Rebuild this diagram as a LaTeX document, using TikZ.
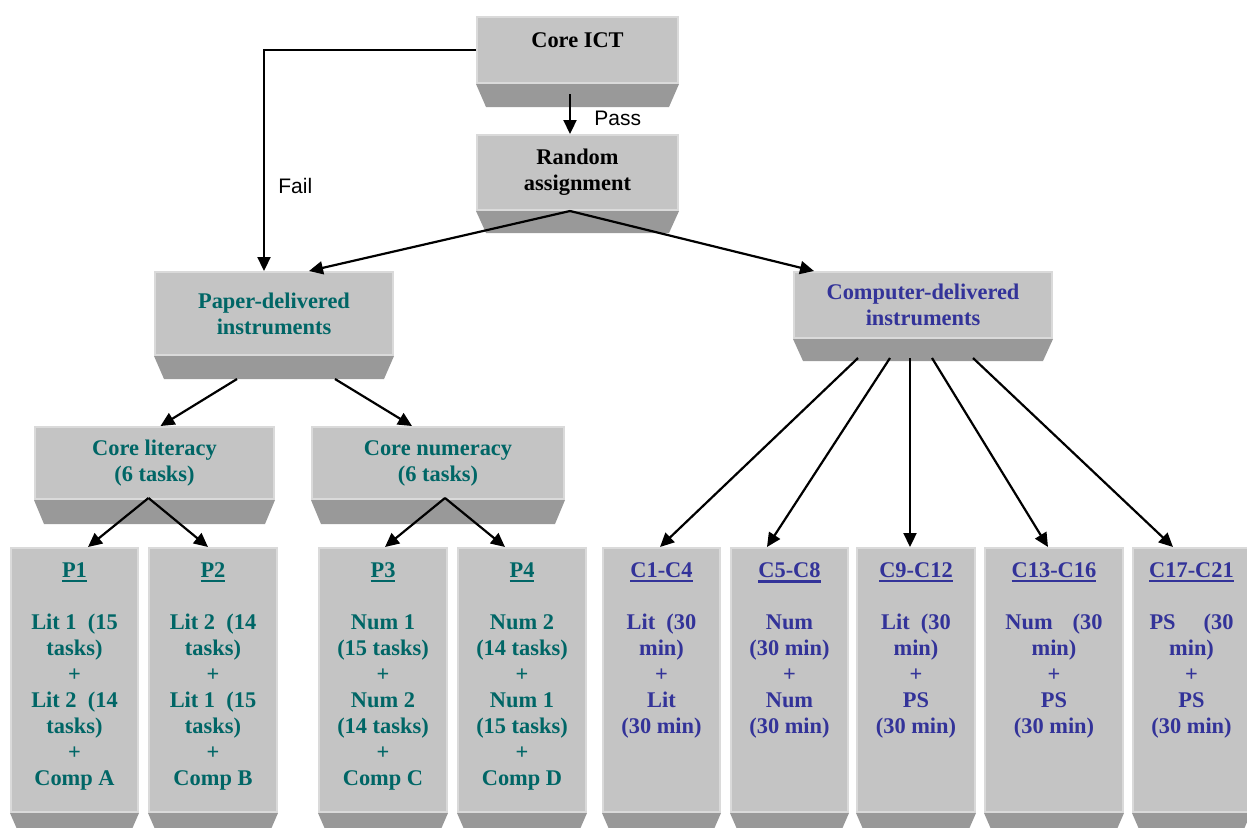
\documentclass[tikz,border=0pt]{standalone}
\usepackage{fontspec}
\setmainfont{Liberation Serif}
\newfontfamily\armfont{Liberation Sans}
\usetikzlibrary{arrows.meta,calc}

\definecolor{facegray}{HTML}{C4C4C4}
\definecolor{edgegray}{HTML}{DADADA}
\definecolor{basegray}{HTML}{999999}
\definecolor{paperteal}{HTML}{006666}
\definecolor{compblue}{HTML}{333399}

\tikzset{
  slab/.style={fill=facegray, draw=edgegray, line width=1pt, inner sep=0pt, align=center,
    font=\bfseries\fontsize{11.2}{13}\selectfont},
  column/.style={slab, anchor=north, inner ysep=7.5pt, minimum width=#1},
  arr/.style={-{Triangle[length=7pt,width=6.5pt]}, line width=1.1pt},
  lbl/.style={font=\armfont\fontsize{10.5}{12}\selectfont, anchor=west, inner sep=0pt}
}

% dark lower face under a box
\newcommand{\slabbase}[2]{\fill[basegray] (#1.south west) -- (#1.south east)
  -- ([shift={(-5pt,-#2)}]#1.south east) -- ([shift={(5pt,-#2)}]#1.south west) -- cycle;}
% text of a tall box, set from the top
\newcommand{\colstack}[1]{\parbox[c][117pt][t]{54pt}{\centering #1}}
\newcommand{\colhead}[1]{\leavevmode\vtop{\hbox{#1}\kern1pt\hrule height 1.2pt}}

\begin{document}
\begin{tikzpicture}[x=0.5pt,y=-0.5pt]
  \useasboundingbox (0,0) rectangle (1247,827);
  \clip (0,0) rectangle (1247,827);

  % upper levels
  \node[slab, minimum width=100.5pt, minimum height=33pt] (ict) at (577.5,50) {\raisebox{10pt}{Core ICT}};
  \node[slab, minimum width=100.5pt, minimum height=37.5pt] (rand) at (577.5,172.5) {Random\\assignment};
  \node[slab, text=paperteal, minimum width=119pt, minimum height=41.5pt] (paper) at (274,313.5) {Paper-delivered\\instruments};
  \node[slab, text=compblue, minimum width=129pt, minimum height=33pt] (comp) at (923,305) {Computer-delivered\\instruments};
  \node[slab, text=paperteal, minimum width=119.5pt, minimum height=36pt] (lit) at (154.5,463) {Core literacy\\(6 tasks)};
  \node[slab, text=paperteal, minimum width=126pt, minimum height=36pt] (num) at (438,463) {Core numeracy\\(6 tasks)};
  \slabbase{ict}{11.5pt}
  \slabbase{rand}{11pt}
  \slabbase{paper}{11.5pt}
  \slabbase{comp}{11pt}
  \slabbase{lit}{12pt}
  \slabbase{num}{12pt}

  % paper booklets
  \node[column=63.5pt, text=paperteal] (p1) at (74.5,547) {\colstack{\colhead{P1}\\[13pt]
    Lit 1~~(15\\tasks)\\+\\Lit 2~~(14\\tasks)\\+\\Comp A}};
  \node[column=64pt, text=paperteal] (p2) at (213,547) {\colstack{\colhead{P2}\\[13pt]
    Lit 2~~(14\\tasks)\\+\\Lit 1~~(15\\tasks)\\+\\Comp B}};
  \node[column=64pt, text=paperteal] (p3) at (383,547) {\colstack{\colhead{P3}\\[13pt]
    Num 1\\(15 tasks)\\+\\Num 2\\(14 tasks)\\+\\Comp C}};
  \node[column=64pt, text=paperteal] (p4) at (522,547) {\colstack{\colhead{P4}\\[13pt]
    Num 2\\(14 tasks)\\+\\Num 1\\(15 tasks)\\+\\Comp D}};

  % computer modules
  \node[column=58.5pt, text=compblue] (c1) at (661.5,547) {\colstack{\colhead{C1-C4}\\[13pt]
    Lit~~(30\\min)\\+\\Lit\\(30 min)}};
  \node[column=58.5pt, text=compblue] (c2) at (789.5,547) {\colstack{\colhead{C5-C8}\\[13pt]
    Num\\(30 min)\\+\\Num\\(30 min)}};
  \node[column=59pt, text=compblue] (c3) at (916,547) {\colstack{\colhead{C9-C12}\\[13pt]
    Lit~~(30\\min)\\+\\PS\\(30 min)}};
  \node[column=69pt, text=compblue] (c4) at (1054,547) {\colstack{\colhead{C13-C16}\\[13pt]
    Num\hspace{10pt}(30\\min)\\+\\PS\\(30 min)}};
  \node[column=58.5pt, text=compblue] (c5) at (1191.5,547) {\colstack{\colhead{C17-C21}\\[13pt]
    PS\hspace{14pt}(30\\min)\\+\\PS\\(30 min)}};
  \foreach \n in {p1,p2,p3,p4,c1,c2,c3,c4,c5}
    \slabbase{\n}{11.5pt};

  % connectors
  \draw[arr] (ict.west) -| ($(paper.north west)+(110,0)$);
  \node[lbl] (fail) at (278,186) {Fail};
  \draw[arr] ($(ict.south)+(-7.5,10)$) -- ($(rand.north)+(-7.5,0)$);
  \node[lbl] (pass) at (594,118) {Pass};
  \draw[arr] ($(rand.south)+(-7.5,0)$) -- ($(paper.north west)+(155,0)$);
  \draw[arr] ($(rand.south)+(-7.5,0)$) -- ($(comp.north west)+(21,0)$);
  \draw[arr] ($(paper.south)+(-37,23)$) -- ($(lit.north)+(6,0)$);
  \draw[arr] ($(paper.south)+(61,23)$) -- ($(num.north)+(-26,0)$);
  \draw[arr] ($(lit.south)+(-6,-2)$) -- ($(p1.north)+(13.5,0)$);
  \draw[arr] ($(lit.south)+(-6,-2)$) -- ($(p2.north)+(-5,0)$);
  \draw[arr] ($(num.south)+(7,-2)$) -- ($(p3.north)+(2,0)$);
  \draw[arr] ($(num.south)+(7,-2)$) -- ($(p4.north)+(-17,0)$);
  \foreach \s/\t/\o in {-65/c1/-1.5, -33/c2/-22.5, -13/c3/-6, 9/c4/-6, 50/c5/-18.5}
    \draw[arr] ($(comp.south)+(\s,19)$) -- ($(\t.north)+(\o,0)$);
\end{tikzpicture}
\end{document}
